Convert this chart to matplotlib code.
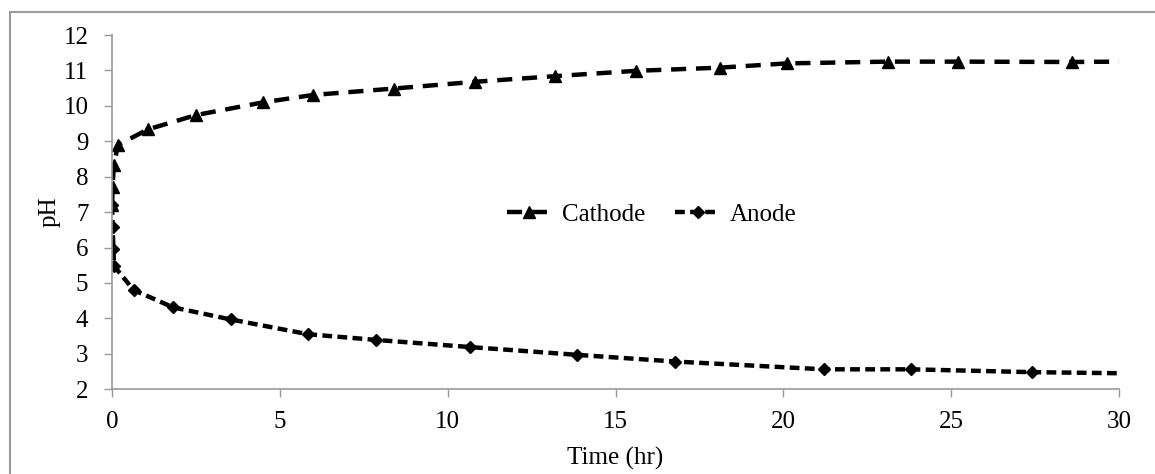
import numpy as np
import matplotlib.pyplot as plt
from matplotlib.lines import Line2D

plt.rcParams['font.family'] = ['Liberation Serif', 'DejaVu Serif']

# Data
t_cathode = [0, 0.02, 0.05, 0.18, 1.08, 2.5, 4.5, 6.0, 8.4, 10.8, 13.2, 15.6, 18.1, 20.1, 23.1, 25.2, 28.6, 30]
ph_cathode = [7.2, 7.72, 8.33, 8.9, 9.34, 9.74, 10.1, 10.31, 10.49, 10.68, 10.84, 10.99, 11.08, 11.2, 11.25, 11.25, 11.24, 11.25]

t_anode = [0, 0.02, 0.04, 0.06, 0.64, 1.82, 3.53, 5.85, 7.87, 10.65, 13.84, 16.77, 21.2, 23.8, 27.4, 30]
ph_anode = [7.2, 6.58, 5.95, 5.48, 4.8, 4.31, 3.97, 3.55, 3.39, 3.19, 2.97, 2.78, 2.56, 2.56, 2.48, 2.45]

xticks = [0, 5, 10, 15, 20, 25, 30]
yticks = list(range(2, 13))

fs = 18

fig = plt.figure(figsize=(11.55, 4.74), dpi=100)
ax = fig.add_axes([0.097, 0.179, 0.872, 0.747])

ax.plot(t_cathode, ph_cathode, color='black', lw=3.2, dashes=(3.4, 2.2),
        marker='^', markersize=8, markevery=list(range(len(t_cathode) - 1)), label='Cathode')
ax.plot(t_anode, ph_anode, color='black', lw=3.2, dashes=(2.2, 1.2),
        marker='D', markersize=6, markevery=list(range(len(t_anode) - 1)), label='Anode')

ax.set_xlim(0, 30)
ax.set_ylim(2, 12)
ax.set_xticks(xticks)
ax.set_yticks(yticks)
ax.tick_params(labelsize=fs, color='#999999', length=6, width=1)
ax.tick_params(axis='x', pad=10)
ax.tick_params(axis='y', pad=11)
for s in ['top', 'right']:
    ax.spines[s].set_visible(False)
for s in ['left', 'bottom']:
    ax.spines[s].set_color('#999999')
    ax.spines[s].set_linewidth(1.2)

ax.set_xlabel('Time (hr)', fontsize=fs, labelpad=10)
ax.set_ylabel('pH', fontsize=fs, labelpad=2)

leg = ax.legend(loc='center', bbox_to_anchor=(0.536, 0.493), ncol=2, frameon=False,
                fontsize=fs, handlelength=1.8, handletextpad=0.4, columnspacing=1.2)

# outer chart border (only left and top visible)
fig.add_artist(Line2D([10 / 1155, 10 / 1155], [0, 1 - 12 / 474], transform=fig.transFigure, color='#999999', lw=1.5))
fig.add_artist(Line2D([10 / 1155, 1], [1 - 12 / 474, 1 - 12 / 474], transform=fig.transFigure, color='#999999', lw=1.5))

fig.savefig('out.png', dpi=100)
